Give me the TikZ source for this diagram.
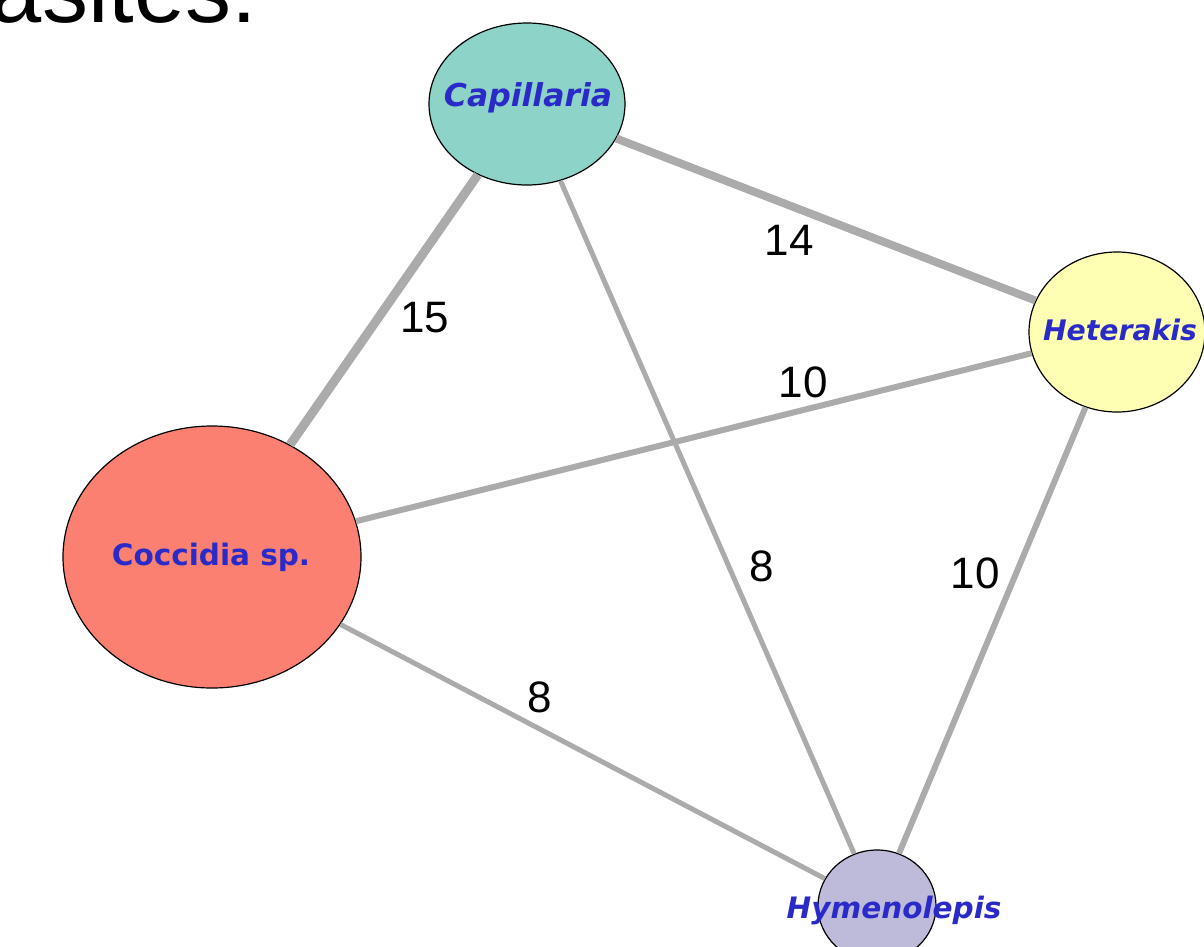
\documentclass[tikz,border=0pt]{standalone}
\usepackage{fontspec}
\setmainfont{Liberation Sans}
\newfontfamily\nodefont{DejaVu Sans}
\usetikzlibrary{shapes.geometric}
\definecolor{edgegray}{HTML}{ABABAB}
\definecolor{txtblue}{HTML}{2A2AC8}
\definecolor{capc}{HTML}{8DD3C7}
\definecolor{hetc}{HTML}{FFFFB3}
\definecolor{cocc}{HTML}{FB8072}
\definecolor{hymc}{HTML}{BEBADA}
\tikzset{
  parasite/.style={ellipse, draw=black, line width=1.2pt, inner sep=0pt},
  ptext/.style={text=txtblue, inner sep=0pt},
  edge/.style={draw=edgegray},
  wlabel/.style={font=\fontsize{44}{48}\selectfont, text=black, inner sep=0pt}
}
\begin{document}
\begin{tikzpicture}[x=1pt,y=-1pt]
\useasboundingbox (0,0) rectangle (1204,946);
\clip (0,0) rectangle (1204,946);
\node[anchor=base east, inner sep=0pt, font=\fontsize{92}{96}\selectfont] (title) at (257,22) {rasites:};
% nodes
\node[parasite, fill=capc, minimum width=196pt, minimum height=162pt] (cap) at (527,104) {};
\node[parasite, fill=hetc, minimum width=176pt, minimum height=160pt] (het) at (1117,332) {};
\node[parasite, fill=cocc, minimum width=298pt, minimum height=262pt] (coc) at (212,557) {};
\node[parasite, fill=hymc, minimum width=118pt, minimum height=112pt] (hym) at (877,906) {};
\node[ptext, font=\nodefont\bfseries\itshape\fontsize{31.5}{34}\selectfont] (caplab) at (528,98) {Capillaria};
\node[ptext, font=\nodefont\bfseries\itshape\fontsize{28.3}{31}\selectfont] (hetlab) at (1120,330) {Heterakis};
\node[ptext, font=\nodefont\bfseries\fontsize{29.5}{32}\selectfont] (coclab) at (211,557) {Coccidia sp.};
\node[ptext, font=\nodefont\bfseries\itshape\fontsize{29.5}{32}\selectfont] (hymlab) at (894,910) {Hymenolepis};
% edges
\draw[edge, line width=9pt] (coc) -- (cap);
\draw[edge, line width=8pt] (cap) -- (het);
\draw[edge, line width=6pt] (coc) -- (het);
\draw[edge, line width=6pt] (het) -- (hym);
\draw[edge, line width=5pt] (cap) -- (hym);
\draw[edge, line width=5pt] (coc) -- (hym);
% edge labels
\node[wlabel] (l15) at (425,318) {15};
\node[wlabel] (l14) at (789,240) {14};
\node[wlabel] (l10a) at (803,382) {10};
\node[wlabel] (l8a) at (762,566) {8};
\node[wlabel] (l10b) at (975,573) {10};
\node[wlabel] (l8b) at (540,697) {8};
\end{tikzpicture}
\end{document}
